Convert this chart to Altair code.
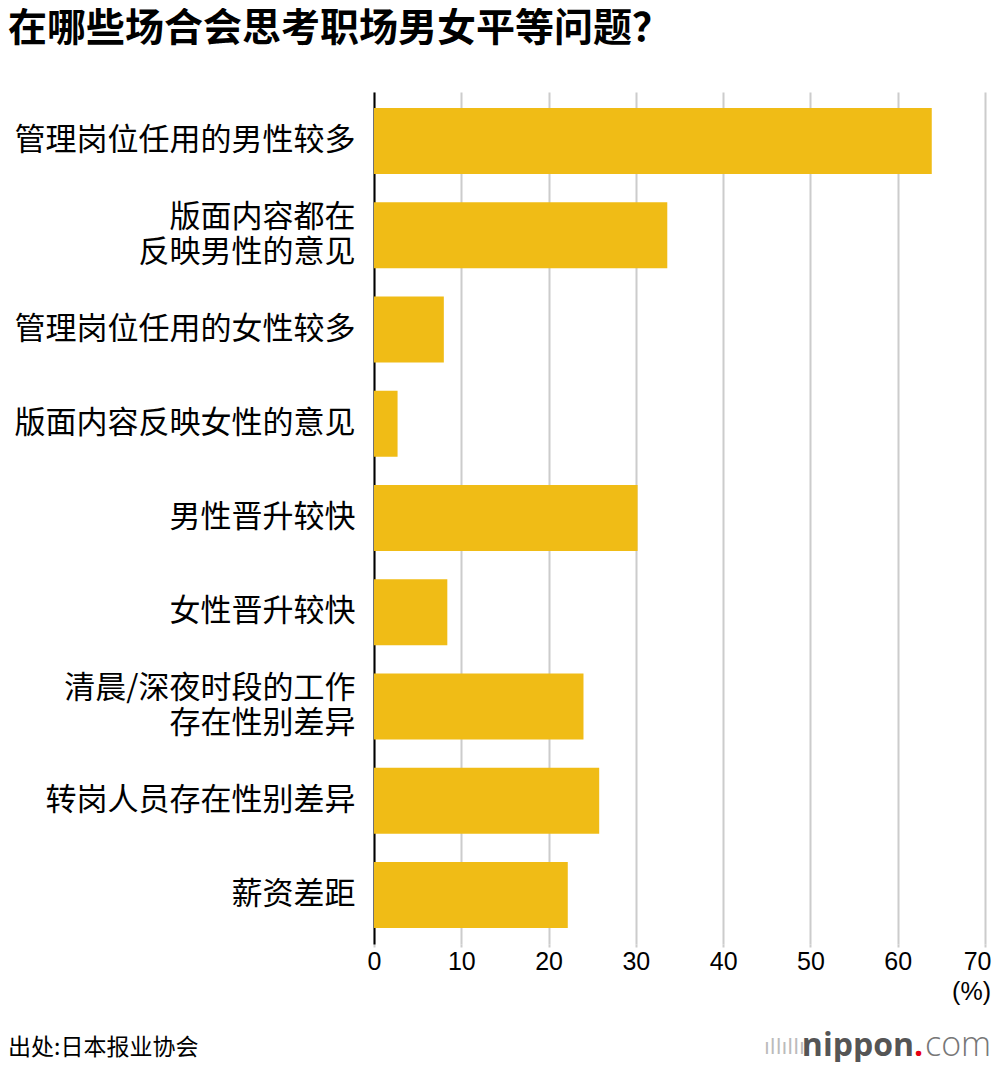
import altair as alt
import pandas as pd

categories = [
    "管理岗位任用的男性较多",
    "版面内容都在|反映男性的意见",
    "管理岗位任用的女性较多",
    "版面内容反映女性的意见",
    "男性晋升较快",
    "女性晋升较快",
    "清晨/深夜时段的工作|存在性别差异",
    "转岗人员存在性别差异",
    "薪资差距",
]
values = [63.9, 33.6, 8.0, 2.7, 30.2, 8.4, 24.0, 25.8, 22.2]
x_ticks = [0, 10, 20, 30, 40, 50, 60, 70]

title_text = "在哪些场合会思考职场男女平等问题？"
source_text = "出处:日本报业协会"

df = pd.DataFrame({"cat": categories, "val": values})

CJK = "Noto Sans CJK SC"
W, H = 611, 852

bars = alt.Chart(df).mark_bar(color="#F0BC16").encode(
    x=alt.X("val:Q", scale=alt.Scale(domain=[0, 70], nice=False),
            axis=alt.Axis(values=x_ticks, title=None, grid=True, gridColor="#cccccc",
                          gridWidth=2, domain=False, ticks=True, tickColor="#cccccc",
                          tickWidth=2, tickSize=3, labelFont="Liberation Sans",
                          labelFontSize=25, labelColor="#000000", labelPadding=2,
                          labelFlush=False,
                          labelAlign={"condition": {"test": "datum.value == 70", "value": "right"},
                                      "value": "center"},
                          labelOffset={"condition": {"test": "datum.value == 70", "value": 6},
                                       "value": 0})),
    y=alt.Y("cat:N", sort=categories,
            scale=alt.Scale(paddingInner=0.3, paddingOuter=0.17),
            axis=alt.Axis(title=None, labelExpr="split(datum.label, '|')",
                          labelFont=CJK, labelFontSize=31, labelColor="#000000",
                          labelLineHeight=35, labelPadding=19, ticks=False,
                          labelOffset={"condition": {"test": "indexof(datum.value, '|') >= 0",
                                                     "value": -17},
                                       "value": 0},
                          domain=True, domainColor="#000000", domainWidth=2,
                          labelLimit=400)),
)

def txt(text, x, y, size, color="#000000", weight="normal", align="left", font=CJK):
    return alt.Chart(pd.DataFrame({"t": [text]})).mark_text(
        align=align, baseline="middle", fontSize=size, font=font,
        fontWeight=weight, color=color
    ).encode(text="t:N", x=alt.value(x), y=alt.value(y))

title = txt(title_text, -366, -63, 39, weight="bold")
pct = txt("(%)", 617, 900, 25, font="Liberation Sans", align="right")
source = txt(source_text, -366, 956, 23)
logo_icon = txt("ıllıllı", 390, 956, 21, color="#bbbbbb", font="DejaVu Sans", align="left")
logo_main = txt("nippon", 540, 954, 32, color="#555555", weight="bold", font="Open Sans", align="right")
logo_dot = txt(".", 540, 954, 32, color="#e60012", weight="bold", font="Open Sans", align="left")
logo_com = txt("com", 551, 954, 34, color="#777777", weight=300, font="Open Sans", align="left")

chart = alt.layer(bars, title, pct, source, logo_icon, logo_main, logo_dot, logo_com).properties(
    width=W, height=H,
    autosize=alt.AutoSizeParams(type="none"),
    padding={"left": 366, "top": 84, "right": 7, "bottom": 118},
).configure_view(stroke=None)

chart.save("out.html", embed_options={"renderer": "svg", "actions": False})
